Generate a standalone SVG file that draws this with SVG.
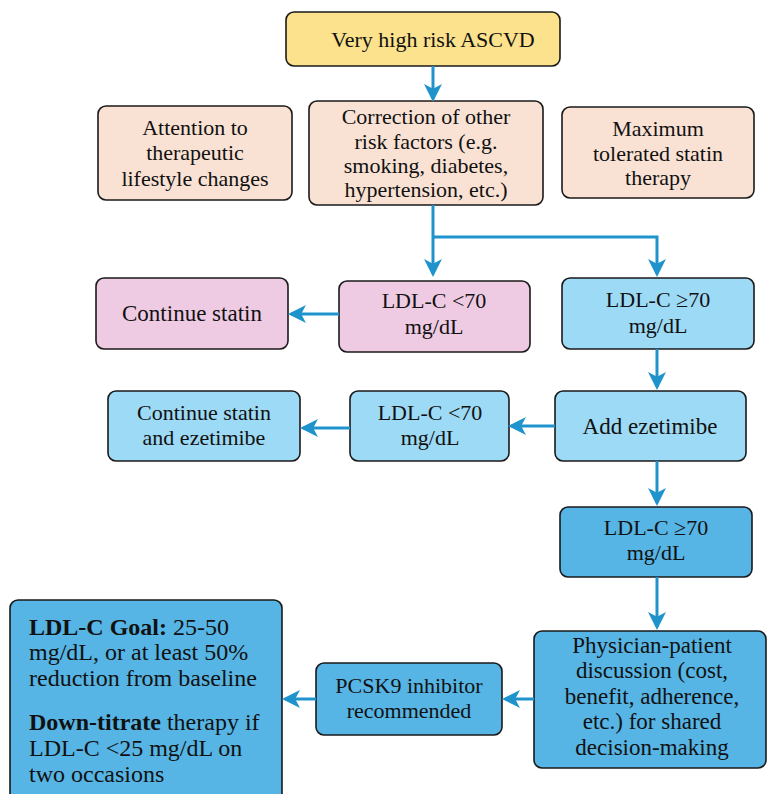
<svg xmlns="http://www.w3.org/2000/svg" width="768" height="794" viewBox="0 0 768 794">
<defs>
<marker id="ah" markerWidth="6" markerHeight="6" refX="5" refY="3" orient="auto" markerUnits="strokeWidth" viewBox="0 0 6 6">
<path d="M0,0 L6,3 L0,6 L1.6,3 z" fill="#1f93cb"/>
</marker>
<style>
.b{stroke:#1a1a1a;stroke-width:1.6}
.y{fill:#fce28c}.p{fill:#f9e2d4}.k{fill:#eecbe3}.l{fill:#9ddaf5}.m{fill:#56b5e5}
text{font-size:22px;fill:#111;text-anchor:middle}
.lt{text-anchor:start;font-size:24px}
.big{font-size:23px}
.c{fill:none;stroke:#1f93cb;stroke-width:3}
</style>
</defs>
<rect width="768" height="794" fill="#fff"/>
<g font-family="Liberation Serif, DejaVu Serif, serif">
<g id="n1"><rect class="b y" x="286" y="12" width="274" height="54" rx="8"/><text x="433" y="47">Very high risk ASCVD</text></g>
<g id="n2"><rect class="b p" x="98" y="106" width="194" height="94" rx="8"/><text x="195" y="135">Attention to</text><text x="195" y="160">therapeutic</text><text x="195" y="186">lifestyle changes</text></g>
<g id="n3"><rect class="b p" x="309" y="101" width="234" height="104" rx="8"/><text x="426" y="124">Correction of other</text><text x="426" y="149">risk factors (e.g.</text><text x="426" y="173">smoking, diabetes,</text><text x="426" y="197">hypertension, etc.)</text></g>
<g id="n4"><rect class="b p" x="562" y="107" width="192" height="91" rx="8"/><text x="658" y="136">Maximum</text><text x="658" y="161">tolerated statin</text><text x="658" y="185">therapy</text></g>
<g id="n5"><rect class="b k" x="96" y="278" width="192" height="71" rx="8"/><text class="big" x="192" y="321">Continue statin</text></g>
<g id="n6"><rect class="b k" x="339" y="281" width="191" height="71" rx="8"/><text x="434" y="308">LDL-C &lt;70</text><text x="434" y="334">mg/dL</text></g>
<g id="n7"><rect class="b l" x="562" y="278" width="192" height="71" rx="8"/><text x="658" y="307">LDL-C ≥70</text><text x="658" y="333">mg/dL</text></g>
<g id="n8"><rect class="b l" x="108" y="391" width="192" height="70" rx="8"/><text x="204" y="420">Continue statin</text><text x="204" y="445">and ezetimibe</text></g>
<g id="n9"><rect class="b l" x="350" y="391" width="159" height="70" rx="8"/><text x="430" y="420">LDL-C &lt;70</text><text x="430" y="445">mg/dL</text></g>
<g id="n10"><rect class="b l" x="555" y="391" width="191" height="70" rx="8"/><text class="big" x="650" y="434">Add ezetimibe</text></g>
<g id="n11"><rect class="b m" x="560" y="507" width="192" height="70" rx="8"/><text x="656" y="535">LDL-C ≥70</text><text x="656" y="560">mg/dL</text></g>
<g id="n12"><rect class="b m" x="534" y="631" width="232" height="137" rx="8"/><text class="big" x="652" y="653">Physician-patient</text><text class="big" x="652" y="678">discussion (cost,</text><text class="big" x="652" y="704">benefit, adherence,</text><text class="big" x="652" y="729">etc.) for shared</text><text class="big" x="652" y="755">decision-making</text></g>
<g id="n13"><rect class="b m" x="316" y="663" width="186" height="72" rx="8"/><text x="409" y="693">PCSK9 inhibitor</text><text x="409" y="718">recommended</text></g>
<g id="n14"><rect class="b m" x="10" y="600" width="272" height="204" rx="8"/>
<text class="lt" x="29" y="635"><tspan font-weight="bold">LDL-C Goal:</tspan> 25-50</text>
<text class="lt" x="29" y="660">mg/dL, or at least 50%</text>
<text class="lt" x="29" y="686">reduction from baseline</text>
<text class="lt" x="29" y="730"><tspan font-weight="bold">Down-titrate</tspan> therapy if</text>
<text class="lt" x="29" y="756">LDL-C &lt;25 mg/dL on</text>
<text class="lt" x="29" y="782">two occasions</text></g>
</g>
<g id="connectors">
<path class="c" d="M433,66 V99" marker-end="url(#ah)"/>
<path class="c" d="M433,205 V274" marker-end="url(#ah)"/>
<path class="c" d="M433,237 H657 V274" marker-end="url(#ah)"/>
<path class="c" d="M339,314 H291" marker-end="url(#ah)"/>
<path class="c" d="M657,349 V387" marker-end="url(#ah)"/>
<path class="c" d="M555,426 H511" marker-end="url(#ah)"/>
<path class="c" d="M350,428 H303" marker-end="url(#ah)"/>
<path class="c" d="M657,461 V503" marker-end="url(#ah)"/>
<path class="c" d="M657,577 V627" marker-end="url(#ah)"/>
<path class="c" d="M534,699 H505" marker-end="url(#ah)"/>
<path class="c" d="M316,699 H285" marker-end="url(#ah)"/>
</g>
</svg>
